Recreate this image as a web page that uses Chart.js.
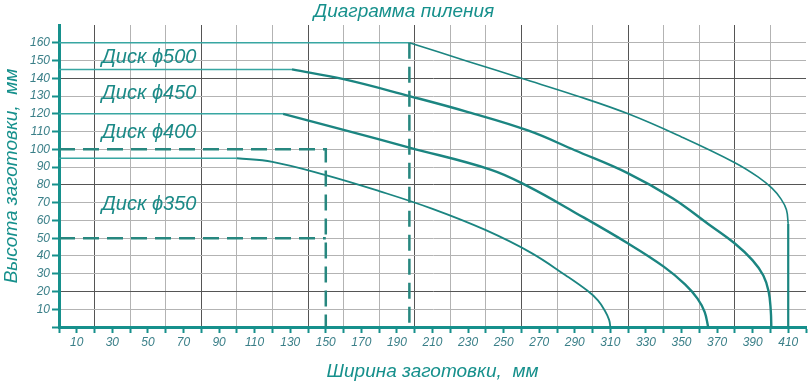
<!DOCTYPE html>
<html>
<head>
<meta charset="utf-8">
<script src="https://cdn.jsdelivr.net/npm/chart.js@4.4.1/dist/chart.umd.min.js"></script>
<style>
  html, body { margin: 0; padding: 0; background: #fff; }
  #wrap { width: 808px; height: 383px; }
</style>
</head>
<body>
<div id="wrap"><canvas id="saw"></canvas></div>
<script>
const disk500Flat  = [[0, 160], [197, 160]];
const disk500Curve = [[197, 160], [230, 149.5], [260, 140], [290, 130.5], [320, 120], [350, 107],
                      [380, 92.5], [393, 84.5], [401, 78], [406, 72], [409, 66], [410, 58]];
const disk500Edge  = [[410, 58], [410, 0]];

const disk450Flat  = [[0, 145], [131, 145]];
const disk450Curve = [[131, 145], [160, 139.5], [197, 130], [230, 121], [264, 110.5], [290, 99.5],
                      [320, 86.5], [345, 72.5], [365, 58], [380, 47], [390, 37.5], [396, 29],
                      [399, 20], [400.2, 9], [400.5, 0]];

const disk400Flat  = [[0, 120], [126, 120]];
const disk400Curve = [[126, 120], [160, 111], [197, 101], [243, 88.5], [264, 79], [290, 64.5],
                      [320, 47], [340, 34], [352, 24], [359, 16], [363, 8.5], [365, 0]];

const disk350Flat  = [[0, 95], [100, 95]];
const disk350Curve = [[100, 95], [120, 93], [150, 85.5], [180, 76.5], [210, 66.5], [240, 54.5],
                      [265, 42], [285, 29], [297, 20.5], [303, 15], [307, 9], [309.3, 4], [310, 0]];

const dashBox100 = [[0, 100], [150, 100], [150, 0]];
const dashLine50 = [[0, 50], [150, 50]];
const dashLine197 = [[197, 160], [197, 0]];

const diskNames  = ['Диск ϕ500', 'Диск ϕ450', 'Диск ϕ400', 'Диск ϕ350'];
const diskLabelX = [24, 24, 24, 24];
const diskLabelY = [152, 131.5, 109.5, 69];

const xLabelValues = [10, 30, 50, 70, 90, 110, 130, 150, 170, 190, 210, 230, 250, 270,
                      290, 310, 330, 350, 370, 390, 410];
const yLabelValues = [10, 20, 30, 40, 50, 60, 70, 80, 90, 100, 110, 120, 130, 140, 150, 160];

const TEAL = '#16908c';
const CURVE = '#1b8581';
const FLAT = '#38a6a2';
const TICK_TXT = '#3a7f88';
const FONT = '"Liberation Sans", Arial, sans-serif';

const toXY = arr => arr.map(p => ({ x: p[0], y: p[1] }));

function line(data, color, width, tension, dash) {
    return {
        data: toXY(data),
        borderColor: color,
        borderWidth: width,
        borderDash: dash || [],
        pointRadius: 0,
        fill: false,
        tension: tension
    };
}

function gridShade(v) {
    return (v - 20) % 60 === 0 ? '#555555' : '#b3b3b3';
}

const diskLabels = {
    id: 'diskLabels',
    afterDatasetsDraw(chart) {
        const ctx = chart.ctx;
        const xs = chart.scales.x, ys = chart.scales.y;
        ctx.save();
        ctx.font = 'italic 20px ' + FONT;
        ctx.fillStyle = '#1b8a87';
        ctx.textAlign = 'left';
        ctx.textBaseline = 'middle';
        diskNames.forEach((name, i) => {
            ctx.fillText(name, xs.getPixelForValue(diskLabelX[i]), ys.getPixelForValue(diskLabelY[i]));
        });
        ctx.restore();
    }
};

const ctx = document.getElementById('saw').getContext('2d');
const sawChart = new Chart(ctx, {
    type: 'line',
    data: {
        datasets: [
            line(dashBox100, '#27877f', 2.5, 0, [16, 8]),
            line(dashLine50, '#27877f', 2.5, 0, [16, 8]),
            line(dashLine197, '#27877f', 2.5, 0, [16, 8]),
            line(disk500Flat, FLAT, 1.5, 0),
            line(disk500Curve, CURVE, 1.6, 0.4),
            line(disk500Edge, CURVE, 2.2, 0),
            line(disk450Flat, FLAT, 1.5, 0),
            line(disk450Curve, CURVE, 2.4, 0.4),
            line(disk400Flat, FLAT, 1.5, 0),
            line(disk400Curve, CURVE, 2.4, 0.4),
            line(disk350Flat, FLAT, 1.5, 0),
            line(disk350Curve, CURVE, 1.8, 0.4)
        ]
    },
    options: {
        responsive: true,
        maintainAspectRatio: false,
        animation: false,
        layout: { padding: 0 },
        plugins: {
            legend: { display: false },
            tooltip: { enabled: false },
            title: {
                display: true,
                text: 'Диаграмма пиления',
                color: TEAL,
                font: { family: FONT, size: 19, style: 'italic', weight: 'normal', lineHeight: 1.1 },
                padding: { top: 1, bottom: 3.1 }
            }
        },
        scales: {
            x: {
                type: 'linear',
                min: 0,
                max: 420,
                afterFit: s => { s.height = 56; },
                afterBuildTicks: s => {
                    const t = [];
                    for (let v = 0; v <= 420; v += 10) t.push({ value: v });
                    s.ticks = t;
                },
                border: { color: TEAL, width: 3 },
                grid: {
                    color: c => {
                        const v = c.tick ? c.tick.value : 0;
                        return (v > 0 && v < 420 && v % 20 === 0) ? gridShade(v) : 'rgba(0,0,0,0)';
                    },
                    lineWidth: 1,
                    drawTicks: true,
                    tickLength: 6,
                    tickColor: TEAL,
                    tickWidth: 2
                },
                ticks: {
                    autoSkip: false,
                    maxRotation: 0,
                    padding: 2,
                    color: TICK_TXT,
                    font: { family: FONT, size: 12, style: 'italic' },
                    callback: v => xLabelValues.includes(v) ? String(v) : ''
                },
                title: {
                    display: true,
                    text: 'Ширина заготовки,  мм',
                    color: TEAL,
                    font: { family: FONT, size: 19, style: 'italic' },
                    padding: { top: 0, bottom: 0 }
                }
            },
            y: {
                type: 'linear',
                min: 0,
                max: 170,
                afterFit: s => { s.width = 59; },
                afterBuildTicks: s => {
                    s.ticks = [{ value: 0 }].concat(yLabelValues.map(v => ({ value: v })));
                },
                border: { color: TEAL, width: 3 },
                grid: {
                    color: c => {
                        const v = c.tick ? c.tick.value : 0;
                        return v > 0 ? gridShade(v) : 'rgba(0,0,0,0)';
                    },
                    lineWidth: 1,
                    drawTicks: true,
                    tickLength: 7,
                    tickColor: TEAL,
                    tickWidth: 2
                },
                ticks: {
                    autoSkip: false,
                    padding: 2,
                    color: TICK_TXT,
                    font: { family: FONT, size: 12, style: 'italic' },
                    callback: v => yLabelValues.includes(v) ? String(v) : ''
                },
                title: {
                    display: true,
                    text: 'Высота заготовки,  мм',
                    color: TEAL,
                    font: { family: FONT, size: 19, style: 'italic' },
                    padding: { top: 0, bottom: 0 }
                }
            }
        }
    },
    plugins: [diskLabels]
});
</script>
</body>
</html>
